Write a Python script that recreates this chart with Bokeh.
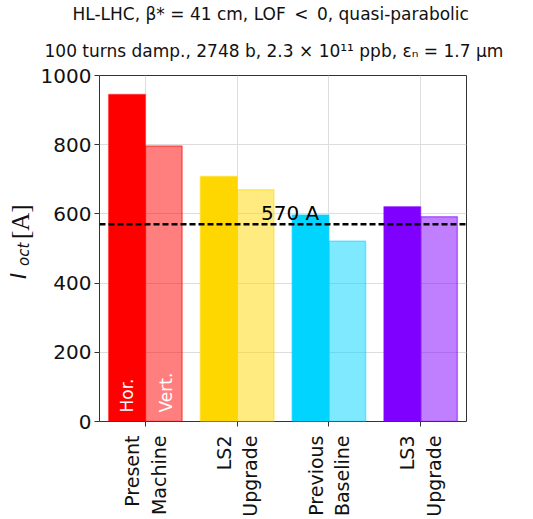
import math
from bokeh.plotting import figure
from bokeh.layouts import row
from bokeh.models import Range1d, FixedTicker, Span, Label, Title
from bokeh.core.properties import value
from bokeh.embed import file_html
from bokeh.resources import INLINE

categories = ["Present\nMachine", "LS2\nUpgrade", "Previous\nBaseline", "LS3\nUpgrade"]
hor_values = [945, 708, 597, 621]
vert_values = [796, 670, 521, 592]
colors = ["#FF0000", "#FFD700", "#00D4FF", "#7F00FF"]
threshold = 570
yticks = [0, 200, 400, 600, 800, 1000]
title_line1 = "HL-LHC, β* = 41 cm, LOF\u2002<\u20020, quasi-parabolic"
title_line2 = "100 turns damp., 2748 b, 2.3 × 10¹¹ ppb, εₙ = 1.7 μm"

W, H = 533, 519
YW = 37   # y-label strip width
FL, FT, FR, FB = 95, 75, 466, 422  # frame edges in page pixels

# ---- y-label strip (frame matches the main frame vertically) ----
yl = figure(width=YW, height=H, output_backend="svg", toolbar_location=None,
            x_range=Range1d(0, YW), y_range=Range1d(H - FB, H - FT),
            x_axis_type=None, y_axis_type=None, outline_line_color=None,
            min_border_left=0, min_border_right=0, min_border_top=FT, min_border_bottom=H - FB)
yl.text(x=[18], y=[H - 279], text=["I"], angle=math.pi / 2, text_baseline="middle",
        text_font=value("DejaVu Sans"), text_font_style="italic", text_font_size="21px",
        text_color="#111111")
yl.text(x=[23], y=[H - 266], text=["oct"], angle=math.pi / 2, text_baseline="middle",
        text_font=value("DejaVu Sans"), text_font_style="italic", text_font_size="15px",
        text_color="#111111")
yl.text(x=[20], y=[H - 239], text=["[A]"], angle=math.pi / 2, text_baseline="middle",
        text_font=value("Liberation Serif"), text_font_size="25px", text_color="#111111")

# ---- main chart ----
MW = W - YW
p = figure(width=MW, height=H, output_backend="svg", toolbar_location=None,
           x_range=Range1d(-0.5, 3.5), y_range=Range1d(0, 1000),
           min_border_left=FL - YW, min_border_right=W - FR, min_border_top=FT,
           min_border_bottom=H - FB)

xs = list(range(len(categories)))
p.vbar(x=[x - 0.2 for x in xs], top=hor_values, width=0.4, bottom=0,
       fill_color=colors, fill_alpha=1.0, line_color=colors, line_alpha=0.5, line_width=1.5)
p.vbar(x=[x + 0.2 for x in xs], top=vert_values, width=0.4, bottom=0,
       fill_color=colors, fill_alpha=0.5, line_color=colors, line_alpha=0.5, line_width=1.5)

p.add_layout(Span(location=threshold, dimension="width", line_color="black",
                  line_width=2.5, line_dash="6 3"))
p.add_layout(Label(x=1.26, y=602, text=f"{threshold} A", text_font="DejaVu Sans",
                   text_font_size="20px", text_color="black", text_baseline="alphabetic"))

p.add_layout(Label(x=-0.2, y=26, text="Hor.", angle=math.pi / 2, text_color="white",
                   text_font="DejaVu Sans", text_font_size="17px", text_baseline="alphabetic"))
p.add_layout(Label(x=0.22, y=26, text="Vert.", angle=math.pi / 2, text_color="white",
                   text_font="DejaVu Sans", text_font_size="17px", text_baseline="alphabetic"))

p.xaxis.ticker = FixedTicker(ticks=xs)
p.xaxis.major_label_overrides = {i: c for i, c in enumerate(categories)}
p.xaxis.major_label_orientation = math.pi / 2
p.xaxis.major_label_standoff = 9
p.xaxis.major_label_text_font_size = "19px"
p.yaxis.ticker = FixedTicker(ticks=yticks)
p.yaxis.major_label_standoff = 3
p.yaxis.major_label_text_font_size = "20px"
for ax in (p.xaxis, p.yaxis):
    ax.major_label_text_font = "DejaVu Sans"
    ax.major_label_text_color = "#111111"
    ax.axis_line_color = None
    ax.major_tick_line_color = "#333333"
    ax.major_tick_out = 5
    ax.major_tick_in = 0
    ax.minor_tick_line_color = None
p.outline_line_color = "#333333"
p.outline_line_width = 1
p.xgrid.grid_line_color = "#dddddd"
p.ygrid.grid_line_color = "#dddddd"
p.xgrid.ticker = FixedTicker(ticks=xs)
p.ygrid.ticker = FixedTicker(ticks=yticks)

p.add_layout(Title(text=title_line2, align="left", offset=-(FL - YW) + 3, standoff=30,
                   text_font="DejaVu Sans", text_font_size="17px", text_font_style="normal",
                   text_color="#111111"), "above")
p.add_layout(Title(text=title_line1, align="left", offset=-(FL - YW) + 31, standoff=0,
                   text_font="DejaVu Sans", text_font_size="17px", text_font_style="normal",
                   text_color="#111111"), "above")

layout = row(yl, p)
open("out.html", "w").write(file_html(layout, INLINE))
